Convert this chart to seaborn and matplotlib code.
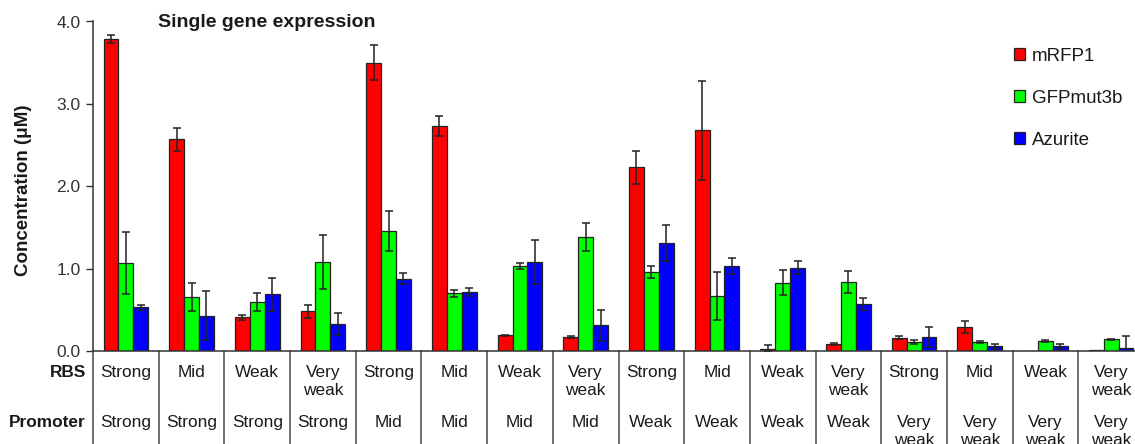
import matplotlib
matplotlib.use("Agg")
import matplotlib.pyplot as plt
import matplotlib.transforms as mtransforms
import numpy as np
import pandas as pd
import seaborn as sns

# Construct labels (RBS strength / promoter strength)
rbs = ["Strong", "Mid", "Weak", "Very\nweak"] * 4
promoter = ["Strong"] * 4 + ["Mid"] * 4 + ["Weak"] * 4 + ["Very\nweak"] * 4
constructs = [f"c{i + 1}" for i in range(16)]

proteins = ["mRFP1", "GFPmut3b", "Azurite"]

# Mean concentrations (uM) and error
mrfp1 = [3.79, 2.57, 0.41, 0.48, 3.50, 2.73, 0.19, 0.17,
         2.23, 2.68, 0.03, 0.085, 0.16, 0.29, 0.005, 0.01]
mrfp1_err = [0.05, 0.14, 0.03, 0.08, 0.21, 0.12, 0.01, 0.01,
             0.20, 0.60, 0.04, 0.01, 0.02, 0.07, 0.0, 0.0]
gfp = [1.07, 0.66, 0.60, 1.08, 1.46, 0.70, 1.03, 1.38,
       0.96, 0.67, 0.83, 0.84, 0.11, 0.11, 0.12, 0.14]
gfp_err = [0.38, 0.17, 0.11, 0.33, 0.24, 0.04, 0.04, 0.17,
           0.07, 0.29, 0.15, 0.13, 0.02, 0.01, 0.01, 0.01]
azurite = [0.53, 0.43, 0.69, 0.33, 0.88, 0.72, 1.08, 0.31,
           1.31, 1.03, 1.01, 0.57, 0.17, 0.06, 0.06, 0.04]
azurite_err = [0.03, 0.30, 0.20, 0.13, 0.07, 0.05, 0.27, 0.19,
               0.22, 0.10, 0.08, 0.07, 0.12, 0.03, 0.03, 0.14]

colors = {"mRFP1": "#ff0000", "GFPmut3b": "#00ff00", "Azurite": "#0000ff"}

means = {"mRFP1": mrfp1, "GFPmut3b": gfp, "Azurite": azurite}
errs = {"mRFP1": mrfp1_err, "GFPmut3b": gfp_err, "Azurite": azurite_err}

df = pd.DataFrame({
    "construct": np.tile(constructs, len(proteins)),
    "protein": np.repeat(proteins, len(constructs)),
    "conc": np.concatenate([means[p] for p in proteins]),
})

sns.set_style("ticks")
plt.rcParams["font.family"] = ["Liberation Sans", "DejaVu Sans"]
text_color = "#1a1a1a"

fig = plt.figure(figsize=(11.35, 4.44), dpi=100)
ax = fig.add_axes([93 / 1135, 1 - 351 / 444, 1051 / 1135, 329.5 / 444])

sns.barplot(data=df, x="construct", y="conc", hue="protein",
            order=constructs, hue_order=proteins, palette=colors,
            errorbar=None, width=0.68, gap=0, edgecolor="#222222",
            linewidth=0.9, saturation=1, ax=ax)

# Error bars placed on the drawn bars
for prot, cont in zip(proteins, ax.containers):
    xs = [b.get_x() + b.get_width() / 2 for b in cont]
    ys = [b.get_height() for b in cont]
    e = np.array(errs[prot])
    keep = e > 0
    ax.errorbar(np.array(xs)[keep], np.array(ys)[keep], yerr=e[keep],
                fmt="none", ecolor="#222222", elinewidth=1.1,
                capsize=3, capthick=1.1, zorder=5)

ax.set_xlim(-0.5, 15.5)
ax.set_ylim(0, 4.0)
ax.set_yticks([0, 1, 2, 3, 4])
ax.set_yticklabels([f"{v:.1f}" for v in [0, 1, 2, 3, 4]],
                   fontsize=12.5, color="#333333")
ax.tick_params(axis="y", length=5, width=1, pad=4, color="#333333")
ax.set_xticks([])
ax.set_xlabel("")
for s in ["top", "right"]:
    ax.spines[s].set_visible(False)
for s in ["left", "bottom"]:
    ax.spines[s].set_color("#333333")
    ax.spines[s].set_linewidth(1.1)

ax.set_ylabel("Concentration (\u03bcM)", fontsize=13.5, fontweight="bold",
              color=text_color)
ax.yaxis.set_label_coords(-0.058, 0.489)

ax.text(0.0616, 0.983, "Single gene expression", transform=ax.transAxes,
        fontsize=14, fontweight="bold", color=text_color, va="baseline",
        ha="left")

# Table of RBS / promoter strengths under the bars
row_rbs, row_prom = -0.041, -0.193
trans = mtransforms.blended_transform_factory(ax.transData, ax.transAxes)
for i, (r, p) in enumerate(zip(rbs, promoter)):
    ax.text(i, row_rbs, r, transform=trans, ha="center", va="top",
            fontsize=12.4, color=text_color, linespacing=1.25,
            clip_on=False)
    ax.text(i, row_prom, p, transform=trans, ha="center", va="top",
            fontsize=12.4, color=text_color, linespacing=1.25,
            clip_on=False)
for i in range(len(constructs) + 1):
    ax.plot([i - 0.5, i - 0.5], [0, -0.4], transform=trans,
            color="#555555", lw=1.2, clip_on=False)

ax.text(-0.007, row_rbs, "RBS", transform=ax.transAxes, ha="right", va="top",
        fontsize=12.4, fontweight="bold", color=text_color)
ax.text(-0.007, row_prom, "Promoter", transform=ax.transAxes, ha="right",
        va="top", fontsize=12.4, fontweight="bold", color=text_color)

handles, labels = ax.get_legend_handles_labels()
for h in handles:
    h.set_edgecolor("#222222")
ax.legend(handles, labels, loc="upper left",
          bbox_to_anchor=(1014 / 1135, 1 - 48 / 444),
          bbox_transform=fig.transFigure, frameon=False,
          fontsize=13.5, handlelength=0.6, handleheight=0.6,
          handletextpad=0.35, labelspacing=1.33, borderpad=0,
          borderaxespad=0, labelcolor=text_color)

fig.savefig("out.png", dpi=100)
